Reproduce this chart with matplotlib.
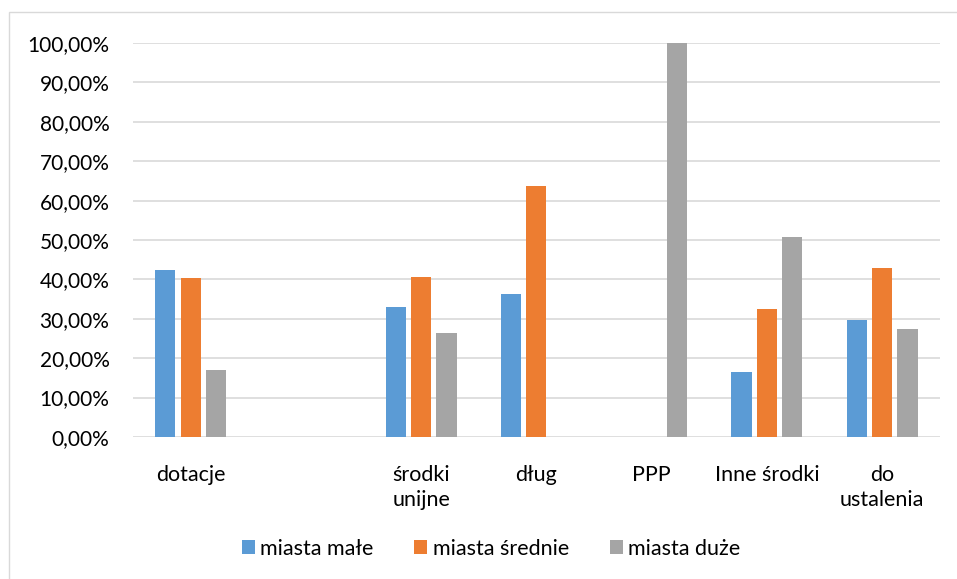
import numpy as np
import matplotlib
matplotlib.use("Agg")
import matplotlib.pyplot as plt
from matplotlib.patches import Rectangle

plt.rcParams['font.family'] = ['Lato', 'DejaVu Sans']

# data
categories = ['dotacje', '', 'środki\nunijne', 'dług', 'PPP', 'Inne środki', 'do\nustalenia']
series_names = ['miasta małe', 'miasta średnie', 'miasta duże']
miasta_male = [42.4, 0, 32.9, 36.3, 0, 16.6, 29.7]
miasta_srednie = [40.4, 0, 40.6, 63.7, 0, 32.4, 42.8]
miasta_duze = [17.0, 0, 26.3, 0, 100.0, 50.8, 27.3]
y_ticks = [0, 10, 20, 30, 40, 50, 60, 70, 80, 90, 100]

colors = ['#5B9BD5', '#ED7D31', '#A5A5A5']

fig = plt.figure(figsize=(9.57, 5.79), dpi=100)
fig.patches.append(Rectangle((0.009, -0.01), 1.0, 0.99, transform=fig.transFigure,
                             fill=False, edgecolor='#d9d9d9', linewidth=1))
ax = fig.add_axes([0.139, 0.2453, 0.843, 0.6804])

x = np.arange(len(categories))
width = 0.175
offset = 0.22
for i, (vals, name) in enumerate(zip([miasta_male, miasta_srednie, miasta_duze], series_names)):
    ax.bar(x + (i - 1) * offset, vals, width, color=colors[i], label=name, zorder=3)

ax.set_xlim(-0.5, len(categories) - 0.5)
ax.set_ylim(0, 100)
ax.set_yticks(y_ticks)
ax.set_yticklabels([f"{v:.2f}%".replace('.', ',') for v in y_ticks], fontsize=15)
ax.set_xticks(x)
ax.set_xticklabels(categories, fontsize=15.5, va='top', linespacing=1.35)
ax.tick_params(axis='both', length=0)
ax.tick_params(axis='x', pad=20)
ax.tick_params(axis='y', pad=17)
ax.grid(axis='y', color='#d9d9d9', linewidth=1.2, zorder=0)
for s in ax.spines.values():
    s.set_visible(False)

fig.legend(loc='center', bbox_to_anchor=(0.513, 0.052), ncol=3, frameon=False,
           fontsize=15.5, handlelength=0.6, handleheight=0.6, handletextpad=0.25,
           columnspacing=1.9)

fig.savefig('out.png', dpi=100)
